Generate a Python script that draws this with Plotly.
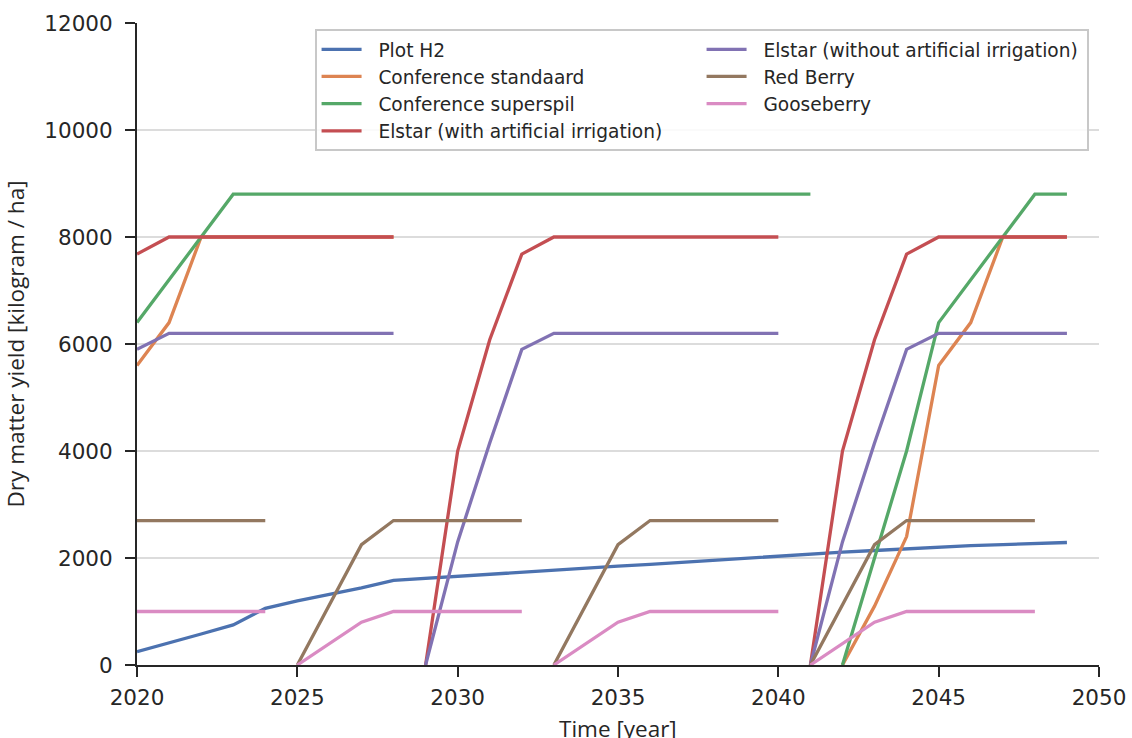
import plotly.graph_objects as go

# ---------------- data ----------------
names = [
    "Plot H2",
    "Conference standaard",
    "Conference superspil",
    "Elstar (with artificial irrigation)",
    "Elstar (without artificial irrigation)",
    "Red Berry",
    "Gooseberry",
]
colors = ["#4C72B0", "#DD8452", "#55A868", "#C44E52", "#8172B3", "#937860", "#DA8BC3"]
# legend order (row-major, 2 columns) reproduces the column-major legend
legend_ranks = [1, 3, 5, 7, 2, 4, 6]

# Each series: list of (start year, yearly values)
plot_h2 = [
    (2020, [250, 410, 580, 750, 1060, 1200, 1320, 1440, 1580, 1620,
            1660, 1700, 1740, 1780, 1820, 1850, 1880, 1920, 1960, 2000,
            2040, 2080, 2110, 2140, 2170, 2210, 2230, 2250, 2270, 2290]),
]
conf_standaard = [
    (2020, [5600, 6400, 8000, 8000, 8000, 8000, 8000, 8000, 8000]),
    (2042, [0, 1100, 2400, 5600, 6400, 8000, 8000, 8000]),
]
conf_superspil = [
    (2020, [6400, 7200, 8000] + [8800] * 19),
    (2042, [0, 2000, 4000, 6400, 7200, 8000, 8800, 8800]),
]
elstar_with = [
    (2020, [7680] + [8000] * 8),
    (2029, [0, 4000, 6080, 7680] + [8000] * 8),
    (2041, [0, 4000, 6080, 7680] + [8000] * 5),
]
elstar_without = [
    (2020, [5900] + [6200] * 8),
    (2029, [0, 2300, 4150, 5900] + [6200] * 8),
    (2041, [0, 2300, 4150, 5900] + [6200] * 5),
]
red_berry = [
    (2020, [2700] * 5),
    (2025, [0, 1125, 2250] + [2700] * 5),
    (2033, [0, 1125, 2250] + [2700] * 5),
    (2041, [0, 1125, 2250] + [2700] * 5),
]
gooseberry = [
    (2020, [1000] * 5),
    (2025, [0, 400, 800] + [1000] * 5),
    (2033, [0, 400, 800] + [1000] * 5),
    (2041, [0, 400, 800] + [1000] * 5),
]
series = [plot_h2, conf_standaard, conf_superspil, elstar_with,
          elstar_without, red_berry, gooseberry]

x_ticks = [2020, 2025, 2030, 2035, 2040, 2045, 2050]
y_ticks = [0, 2000, 4000, 6000, 8000, 10000, 12000]
x_tick_labels = ["2020", "2025", "2030", "2035", "2040", "2045", "2050"]
y_tick_labels = ["0", "2000", "4000", "6000", "8000", "10000", "12000"]
x_title = "Time [year]"
y_title = "Dry matter yield [kilogram / ha]"

# ---------------- figure ----------------
fig = go.Figure()
for name, col, rank, segs in zip(names, colors, legend_ranks, series):
    xs, ys = [], []
    for start, vals in segs:
        if xs:
            xs.append(None)
            ys.append(None)
        xs.extend(range(start, start + len(vals)))
        ys.extend(vals)
    fig.add_trace(go.Scatter(
        x=xs, y=ys, mode="lines", name="\u00a0\u00a0" + name, legendrank=rank,
        line=dict(color=col, width=3.3), connectgaps=False,
    ))

tick_font = dict(family="DejaVu Sans", size=21.5, color="#262626")
title_font = dict(family="Open Sans", size=22.5, color="#262626")

fig.update_layout(
    width=1132, height=738,
    margin=dict(l=137, r=33, t=23, b=73),
    paper_bgcolor="white", plot_bgcolor="white",
    showlegend=True,
    legend=dict(
        orientation="h",
        x=0.185, y=0.9905, xanchor="left", yanchor="top",
        entrywidth=330, entrywidthmode="pixels",
        itemwidth=40,
        font=dict(family="DejaVu Sans", size=18.6, color="#262626"),
        bgcolor="rgba(255,255,255,0.85)",
        bordercolor="#c8c8c8", borderwidth=1.6,
        traceorder="normal",
    ),
    xaxis=dict(
        range=[2020, 2050], tickvals=x_ticks, ticktext=x_tick_labels,
        showgrid=False, zeroline=False, automargin=False,
        showline=True, linecolor="#262626", linewidth=2,
        ticks="outside", ticklen=10, tickwidth=2, tickcolor="#262626",
        ticklabelstandoff=2,
        tickfont=tick_font,
    ),
    yaxis=dict(
        range=[0, 12000], tickvals=y_ticks, ticktext=y_tick_labels,
        showgrid=True, gridcolor="#dcdcdc", gridwidth=1.5,
        zeroline=False, automargin=False,
        showline=True, linecolor="#262626", linewidth=2,
        ticks="outside", ticklen=10, tickwidth=2, tickcolor="#262626",
        ticklabelstandoff=8,
        tickfont=tick_font,
        title=dict(text=y_title, font=title_font, standoff=18),
    ),
    annotations=[dict(
        text=x_title, xref="paper", yref="paper", x=0.5, y=-0.071,
        xanchor="center", yanchor="top", showarrow=False, font=title_font,
    )],
)

fig.write_html("out.html")
